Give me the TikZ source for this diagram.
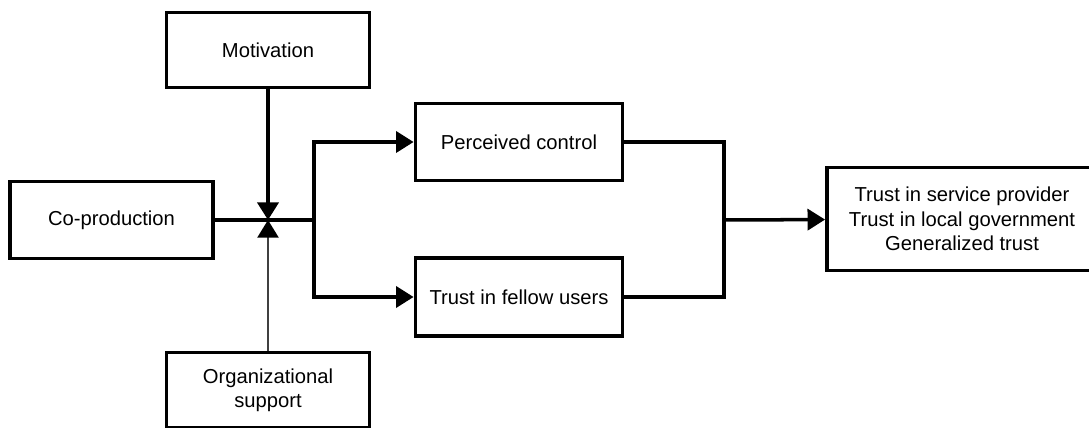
\documentclass[tikz,border=0pt]{standalone}
\usepackage{fontspec}
\setmainfont{Liberation Sans}
\usetikzlibrary{positioning, arrows.meta}

\tikzset{
    factor/.style={draw, line width=2.2pt, align=center, inner sep=2pt,
        font=\fontsize{11.5}{13.8}\selectfont},
    link/.style={line width=2pt},
    tolink/.style={link, -{Triangle[length=10pt, width=12pt]}},
    weaklink/.style={line width=1pt, black!75, -{Triangle[length=10pt, width=12pt, color=black, fill=black]}}
}

\begin{document}
\begin{tikzpicture}[x=0.02cm, y=-0.02cm]
    \useasboundingbox (0,0) rectangle (1089,428);
    \node[factor, minimum width=4.06cm, minimum height=1.5cm] (mot) at (268,50) {Motivation};
    \node[factor, minimum width=4.06cm, minimum height=1.54cm] (cop) at (111.5,220) {Co-production};
    \node[factor, minimum width=4.06cm, minimum height=1.5cm] (org) at (268,390) {Organizational\\support};
    \node[factor, minimum width=4.14cm, minimum height=1.54cm] (pc) at (519,142) {Perceived control};
    \node[factor, minimum width=4.14cm, minimum height=1.56cm] (tfu) at (519,297) {Trust in fellow users};
    \node[factor, minimum width=5.4cm, minimum height=2.06cm] (out) at (962,219) {Trust in service provider\\Trust in local government\\Generalized trust};
    \coordinate (j) at (268,220);
    \coordinate (b) at (314,220);
    \coordinate (m) at (724,220);
    % moderators on the co-production path
    \draw[link] (cop.east) -- (b);
    \draw[tolink] (mot) -- (j);
    \draw[weaklink] (org) -- (j);
    \draw[tolink] (b) |- (pc);
    \draw[tolink] (b) |- (tfu);
    % mediators to trust outcomes
    \draw[link] (pc) -| (m);
    \draw[link] (tfu) -| (m);
    \draw[tolink] (m) -- (out);
\end{tikzpicture}
\end{document}
